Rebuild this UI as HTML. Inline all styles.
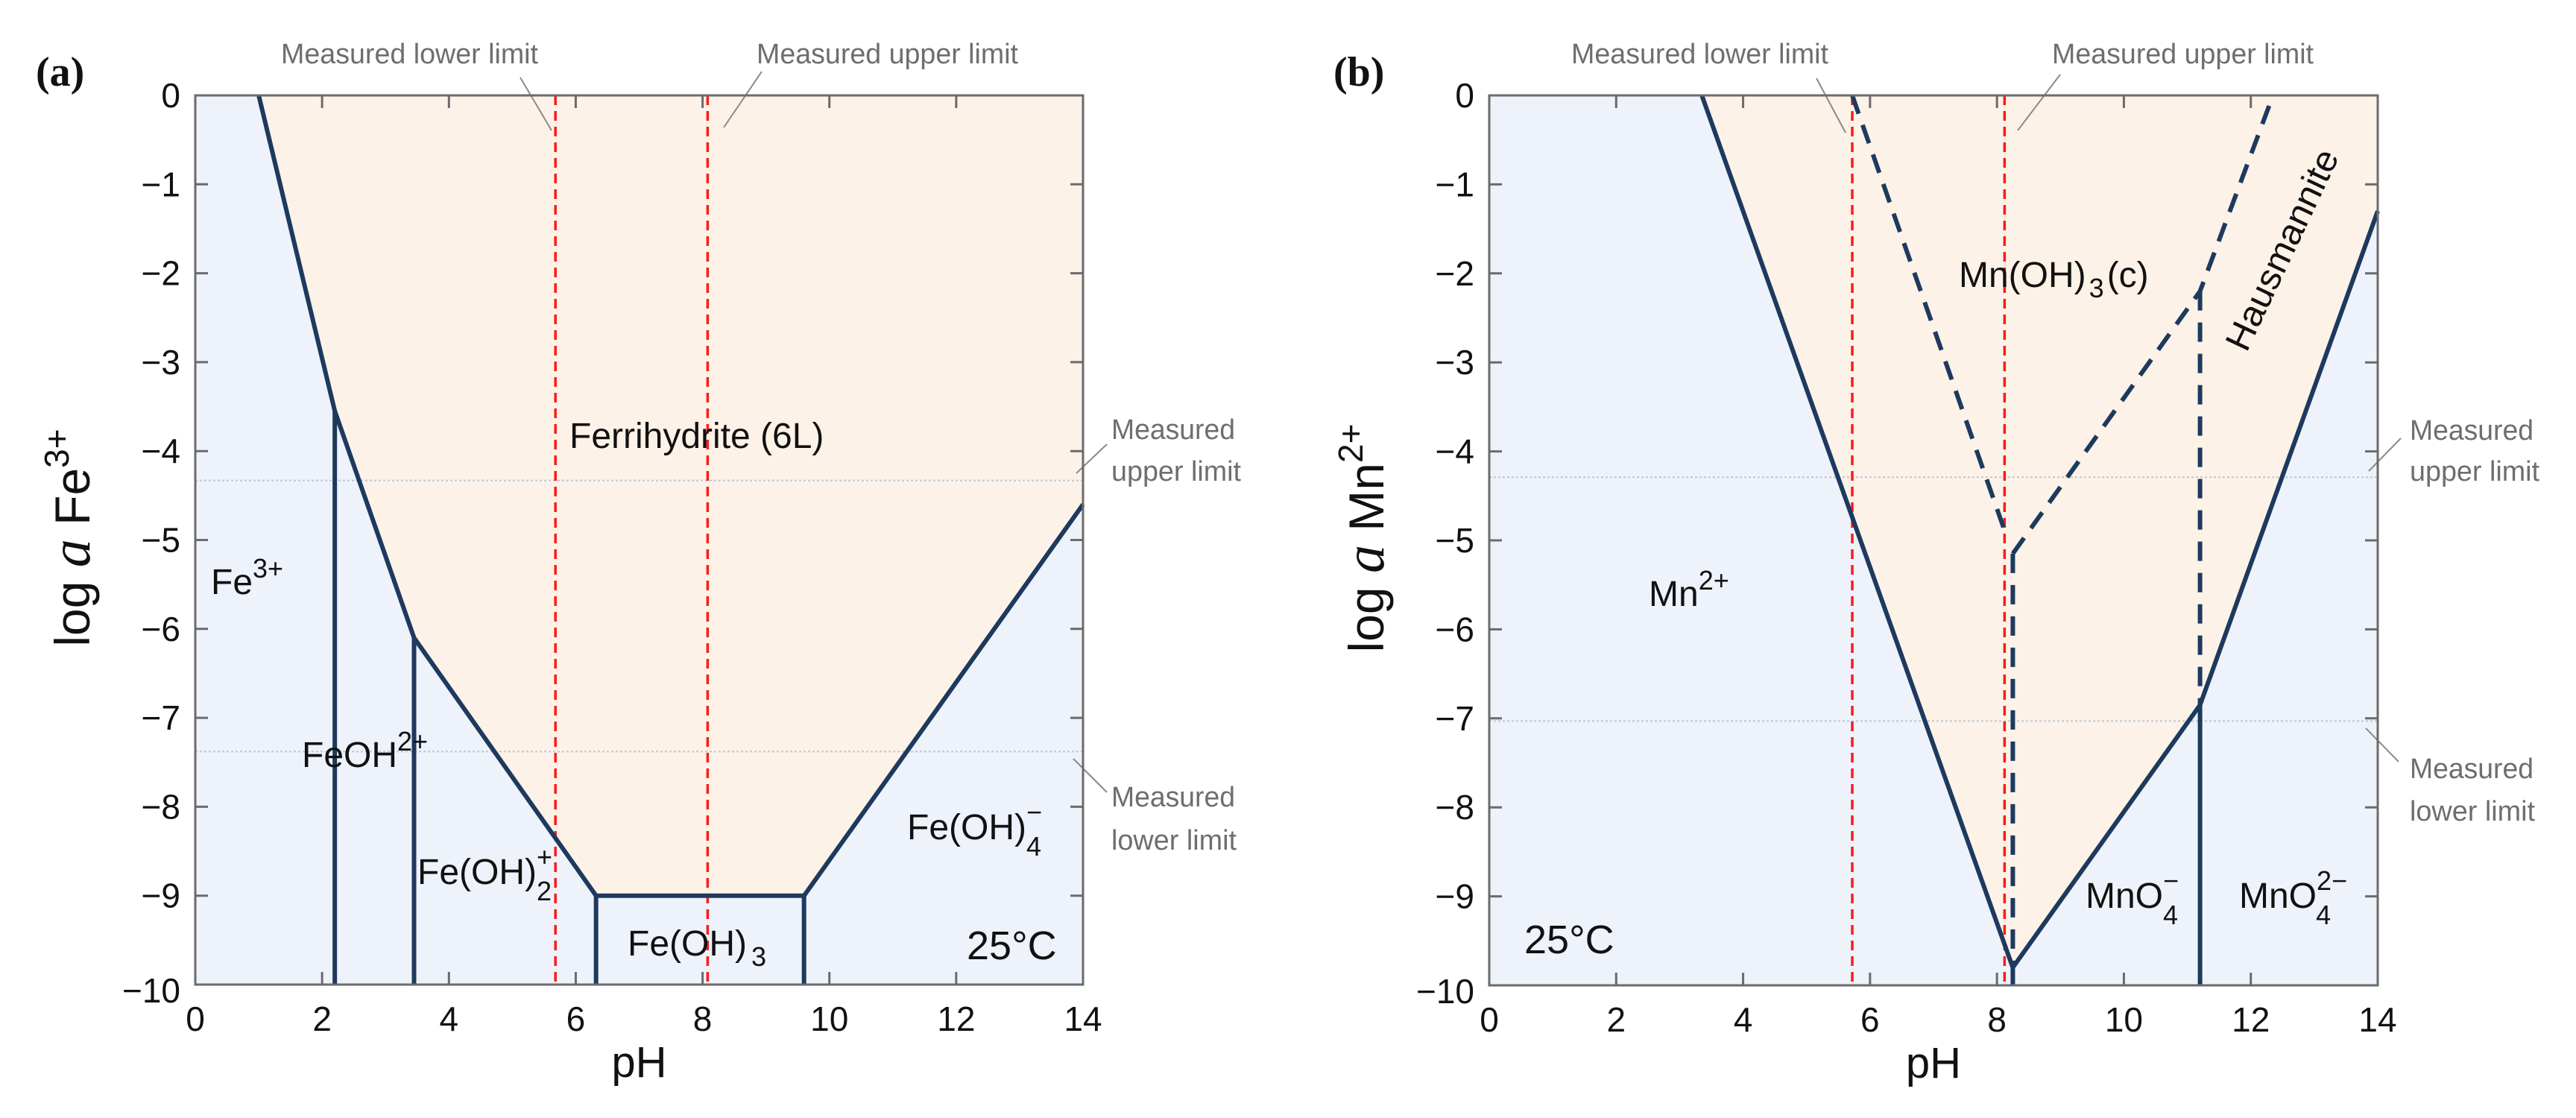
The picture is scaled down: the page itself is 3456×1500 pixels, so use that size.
<!DOCTYPE html>
<html><head><meta charset="utf-8">
<style>
html,body{margin:0;padding:0;background:#fff;}
svg{display:block;}
</style></head>
<body>
<svg id="fig" width="3456" height="1500" viewBox="0 0 3456 1500" xmlns="http://www.w3.org/2000/svg" font-family="Liberation Sans, sans-serif">
</svg>
<script>
// ---------- data (pH, log a) ----------
const xTicks = [0,2,4,6,8,10,12,14];
const yTicks = [0,-1,-2,-3,-4,-5,-6,-7,-8,-9,-10];
const yTickLabels = ["0","\u22121","\u22122","\u22123","\u22124","\u22125","\u22126","\u22127","\u22128","\u22129","\u221210"];

// Panel (a) Fe
const feBoundaryPH = [1.0, 2.2, 3.45, 6.32, 9.6, 14];
const feBoundaryLog = [0, -3.55, -6.1, -9.0, -9.0, -4.6];
const feVerticalPH = [2.2, 3.45, 6.32, 9.6];
const feVerticalTop = [-3.55, -6.1, -9.0, -9.0];
const feMeasuredPH = [5.68, 8.08];
const feMeasuredLog = [-4.33, -7.38];

// Panel (b) Mn
const mnBoundaryPH = [3.35, 8.25, 11.2, 14];
const mnBoundaryLog = [0, -9.8, -6.85, -1.3];
const mnDash1PH = [5.72, 8.15];
const mnDash1Log = [0, -4.95];
const mnDash2PH = [8.25, 11.2, 12.35];
const mnDash2Log = [-5.15, -2.2, 0];
const mnDashVertPH = [8.25, 11.2];
const mnDashVertTop = [-5.15, -2.2];
const mnDashVertBot = [-9.8, -6.85];
const mnSolidVertPH = [8.25, 11.2];
const mnSolidVertTop = [-9.8, -6.85];
const mnMeasuredPH = [5.72, 8.12];
const mnMeasuredLog = [-4.29, -7.03];

const NS = "http://www.w3.org/2000/svg";
const svg = document.getElementById('fig');
const NAVY = "#1d3a5e", RED = "#ff1a1a", AX = "#6b6b6b", GREY = "#6e6e6e";
const SERIF = "font-family:'Liberation Serif',serif;";

function mk(tag, attrs, parent, txt){
  const e = document.createElementNS(NS, tag);
  for (const k in attrs) e.setAttribute(k, attrs[k]);
  if (txt !== undefined) e.textContent = txt;
  (parent||svg).appendChild(e);
  return e;
}

function makeAxes(x0, x1, y0, y1){
  return {
    sx: v => x0 + (v - 0) / 14 * (x1 - x0),
    sy: v => y0 + (0 - v) / 10 * (y1 - y0),
    x0, x1, y0, y1
  };
}

function panel(A, name){
  const g = mk('g', {});
  
  
  const bg = mk('rect', {x:A.x0, y:A.y0, width:A.x1-A.x0, height:A.y1-A.y0, fill:"#eef2fa"}, g);
  
  
  return g;
}

function pathFrom(A, xs, ys){
  return xs.map((x,i)=> (i?'L':'M') + A.sx(x).toFixed(1) + ' ' + A.sy(ys[i]).toFixed(1)).join(' ');
}

function axesDecor(A, g, ylabelMain, ylabelSup, letter, letterX){
  const fr = mk('rect', {x:A.x0, y:A.y0, width:A.x1-A.x0, height:A.y1-A.y0, fill:"none", stroke:AX, "stroke-width":3}, g);
  
  
  const tl = 17;
  xTicks.forEach(t=>{
    const x = A.sx(t);
    const tk = mk('path', {d:`M${x} ${A.y1}v${-tl}M${x} ${A.y0}v${tl}`, stroke:AX, "stroke-width":3}, g);
    
    
    const lb = mk('text', {x:x, y:A.y1+62, "font-size":46, "text-anchor":"middle", fill:"#111"}, g, String(t));
    
    
  });
  yTicks.forEach((t,i)=>{
    const y = A.sy(t);
    const tk = mk('path', {d:`M${A.x0} ${y}h${tl}M${A.x1} ${y}h${-tl}`, stroke:AX, "stroke-width":3}, g);
    
    
    const lb = mk('text', {x:A.x0-20, y:y+(t===-10?24:16), "font-size":46, "text-anchor":"end", fill:"#111"}, g, yTickLabels[i]);
    
    
  });
  const xt = mk('text', {x:(A.x0+A.x1)/2, y:A.y1+124, "font-size":58, "text-anchor":"middle", fill:"#111"}, g, "pH");
  
  
  const yt = mk('text', {x:0, y:0, "font-size":66, "text-anchor":"middle", fill:"#111", transform:`translate(${A.x0-142},${(A.y0+A.y1)/2-3}) rotate(-90)`}, g);
  
  
  mk('tspan', {}, yt, "log ");
  mk('tspan', {style:SERIF+"font-style:italic;font-size:76px;"}, yt, "a");
  mk('tspan', {}, yt, " " + ylabelMain);
  mk('tspan', {dy:-28, "font-size":46}, yt, ylabelSup);
  const pl = mk('text', {x:letterX, y:115, fill:"#111", style:SERIF+"font-size:56px;font-weight:bold;"}, g, letter);
  
  
}

function label(g, x, y, parts, name, size){
  const t = mk('text', {x:x, y:y, "font-size":size||48, fill:"#111"}, g);
  
  
  parts.forEach(p=>{
    const a = {};
    if (p.dy) a.dy = p.dy;
    if (p.dx) a.dx = p.dx;
    if (p.s) a['font-size'] = p.s;
    mk('tspan', a, t, p.t);
  });
  return t;
}

function grey(g, x, y, str, w, name){
  const t = mk('text', {x:x, y:y, "font-size":38, fill:GREY, textLength:w, lengthAdjust:"spacingAndGlyphs"}, g, str);
  
  
}
function leader(g, x1,y1,x2,y2){
  const l = mk('line', {x1,y1,x2,y2, stroke:"#8a8a8a", "stroke-width":2}, g);
  
  
}

function measuredLines(A, g, phs, logs){
  logs.forEach(v=>{
    const l = mk('line', {x1:A.x0, x2:A.x1, y1:A.sy(v), y2:A.sy(v), stroke:"#b9c9d2", "stroke-width":2, "stroke-dasharray":"3 3"}, g);
    
    
  });
  phs.forEach(v=>{
    const l = mk('line', {x1:A.sx(v), x2:A.sx(v), y1:A.y0, y2:A.y1, stroke:RED, "stroke-width":3.5, "stroke-dasharray":"13 8"}, g);
    
    
  });
}

// ================= Panel (a) =================
const A = makeAxes(262, 1453, 128, 1321);
const ga = panel(A, 'panel-a-fe');
{
  const d = pathFrom(A, feBoundaryPH, feBoundaryLog) + ` L${A.x1} ${A.y0} L${A.sx(feBoundaryPH[0])} ${A.y0} Z`;
  const r = mk('path', {d:d, fill:"#fdf2e8"}, ga);
  
  
  measuredLines(A, ga, feMeasuredPH, feMeasuredLog);
  const b = mk('path', {d:pathFrom(A, feBoundaryPH, feBoundaryLog), fill:"none", stroke:NAVY, "stroke-width":6}, ga);
  
  
  feVerticalPH.forEach((p,i)=>{
    const v = mk('line', {x1:A.sx(p), x2:A.sx(p), y1:A.sy(feVerticalTop[i]), y2:A.sy(-10), stroke:NAVY, "stroke-width":6}, ga);
    
    
  });
  label(ga, 764, 601, [{t:"Ferrihydrite (6L)"}], 'ferrihydrite-label');
  label(ga, 283, 797, [{t:"Fe"},{t:"3+",dy:-22,s:36}], 'fe3-label');
  label(ga, 405, 1029, [{t:"FeOH"},{t:"2+",dy:-22,s:36}], 'feoh2-label');
  label(ga, 560, 1186, [{t:"Fe(OH)"},{t:"+",dy:-24,s:36},{t:"2",dx:-21,dy:46,s:36}], 'feoh2-plus-label');
  label(ga, 842, 1282, [{t:"Fe(OH)"},{t:"3",dy:14,s:36,dx:6}], 'feoh3-label');
  label(ga, 1217, 1126, [{t:"Fe(OH)"},{t:"\u2212",dy:-24,s:36},{t:"4",dx:-21,dy:46,s:36}], 'feoh4-label');
  label(ga, 1297, 1287, [{t:"25°C"}], 'temperature-label', 54);
  grey(ga, 377, 85, "Measured lower limit", 345, 'measured-lower-ph-annotation');
  leader(ga, 698, 104, 740, 175);
  grey(ga, 1015, 85, "Measured upper limit", 351, 'measured-upper-ph-annotation');
  leader(ga, 1022, 96, 971, 171);
  grey(ga, 1491, 589, "Measured", 166, 'measured-upper-log-annotation');
  grey(ga, 1491, 645, "upper limit", 174, 'measured-upper-log-annotation-2');
  leader(ga, 1485, 596, 1444, 635);
  grey(ga, 1491, 1082, "Measured", 166, 'measured-lower-log-annotation');
  grey(ga, 1491, 1140, "lower limit", 168, 'measured-lower-log-annotation-2');
  leader(ga, 1485, 1063, 1440, 1018);
  axesDecor(A, ga, "Fe", "3+", "(a)", 48);
}

// ================= Panel (b) =================
const B = makeAxes(1998, 3190, 128, 1322);
const gb = panel(B, 'panel-b-mn');
{
  const d = pathFrom(B, mnBoundaryPH, mnBoundaryLog) + ` L${B.x1} ${B.y0} Z`;
  const r = mk('path', {d:d, fill:"#fdf2e8"}, gb);
  
  
  measuredLines(B, gb, mnMeasuredPH, mnMeasuredLog);
  const dashStyle = {fill:"none", stroke:NAVY, "stroke-width":6, "stroke-dasharray":"26 16"};
  const d1 = mk('path', Object.assign({d:pathFrom(B, mnDash1PH, mnDash1Log)}, dashStyle), gb);
  
  
  const d2 = mk('path', Object.assign({d:pathFrom(B, mnDash2PH, mnDash2Log)}, dashStyle), gb);
  
  
  mnDashVertPH.forEach((p,i)=>{
    const v = mk('path', Object.assign({d:`M${B.sx(p)} ${B.sy(mnDashVertTop[i])} V${B.sy(mnDashVertBot[i])}`}, dashStyle), gb);
    
    
  });
  const b = mk('path', {d:pathFrom(B, mnBoundaryPH, mnBoundaryLog), fill:"none", stroke:NAVY, "stroke-width":6}, gb);
  
  
  mnSolidVertPH.forEach((p,i)=>{
    const v = mk('line', {x1:B.sx(p), x2:B.sx(p), y1:B.sy(mnSolidVertTop[i]), y2:B.sy(-10), stroke:NAVY, "stroke-width":6}, gb);
    
    
  });
  label(gb, 2628, 385, [{t:"Mn(OH)"},{t:"3",dy:14,s:36,dx:4},{t:"(c)",dy:-14,dx:4}], 'mnoh3-label');
  label(gb, 2212, 813, [{t:"Mn"},{t:"2+",dy:-22,s:36}], 'mn2-label');
  label(gb, 2798, 1218, [{t:"MnO"},{t:"\u2212",dy:-24,s:36},{t:"4",dx:-21,dy:46,s:36}], 'mno4-label');
  label(gb, 3004, 1218, [{t:"MnO"},{t:"2\u2212",dy:-24,s:36},{t:"4",dx:-42,dy:46,s:36}], 'mno4-2-label');
  label(gb, 2045, 1279, [{t:"25°C"}], 'temperature-label', 54);
  const h = mk('text', {x:0, y:0, "font-size":48, fill:"#111", textLength:292, lengthAdjust:"spacingAndGlyphs", transform:"translate(3014,474) rotate(-64.7)"}, gb, "Hausmannite");
  
  
  grey(gb, 2108, 85, "Measured lower limit", 345, 'measured-lower-ph-annotation');
  leader(gb, 2437, 105, 2476, 178);
  grey(gb, 2753, 85, "Measured upper limit", 351, 'measured-upper-ph-annotation');
  leader(gb, 2764, 100, 2707, 175);
  grey(gb, 3233, 590, "Measured", 166, 'measured-upper-log-annotation');
  grey(gb, 3233, 645, "upper limit", 174, 'measured-upper-log-annotation-2');
  leader(gb, 3221, 588, 3178, 632);
  grey(gb, 3233, 1044, "Measured", 166, 'measured-lower-log-annotation');
  grey(gb, 3233, 1101, "lower limit", 168, 'measured-lower-log-annotation-2');
  leader(gb, 3174, 977, 3218, 1022);
  axesDecor(B, gb, "Mn", "2+", "(b)", 1789);
}
</script>
</body></html>
